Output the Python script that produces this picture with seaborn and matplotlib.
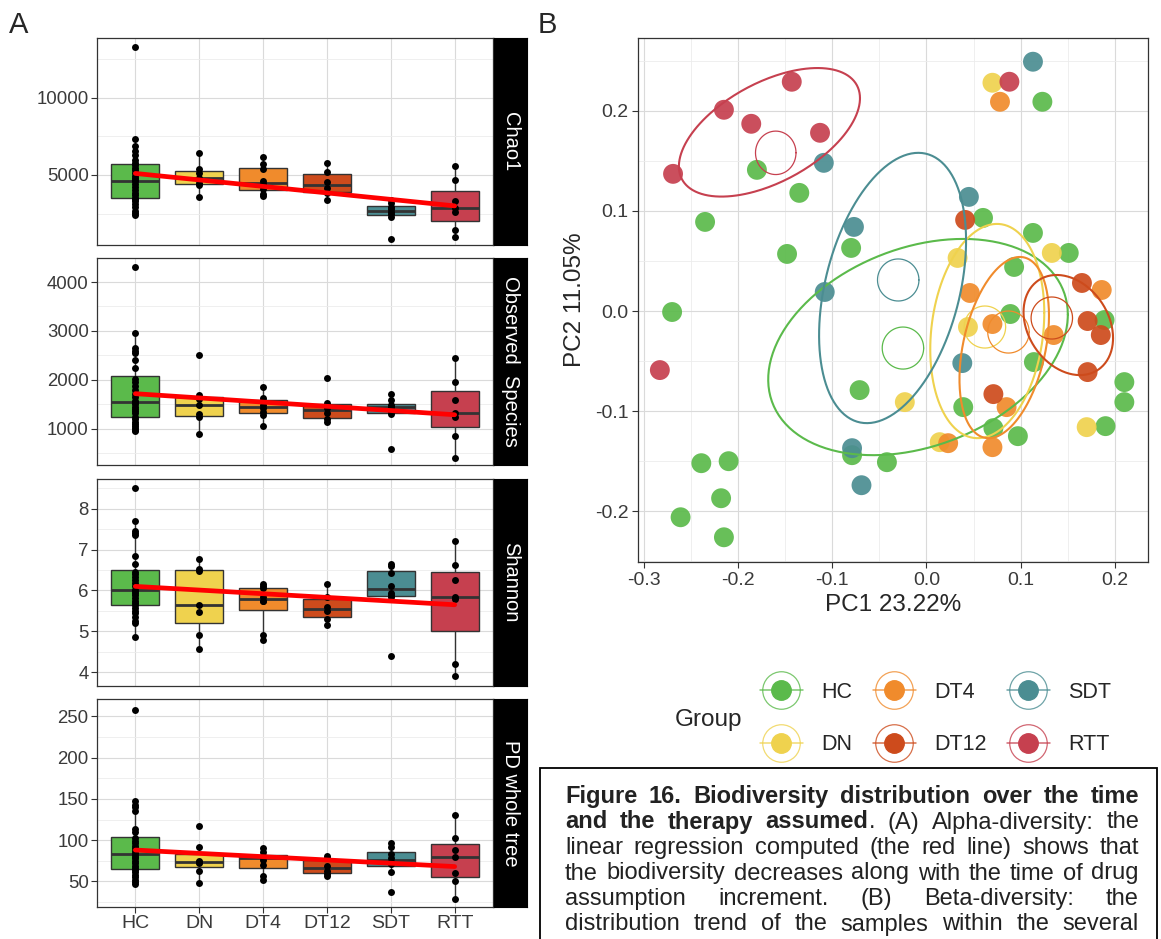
import numpy as np
import pandas as pd
import seaborn as sns
import matplotlib.pyplot as plt
from matplotlib.lines import Line2D
from matplotlib.patches import Rectangle
from matplotlib.legend_handler import HandlerTuple

groups = ["HC", "DN", "DT4", "DT12", "SDT", "RTT"]
colors = ["#5BBA4B", "#EFD24E", "#F08B2C", "#CD4B1C", "#4B8D92", "#C6404F"]

# alpha diversity, one value per sample
chao1 = {
    "HC": [2400, 2550, 2700, 2900, 3100, 3300, 3460, 3520, 3700, 3850, 4000, 4200, 4400, 4580,
           4680, 4800, 4950, 5100, 5300, 5450, 5650, 5780, 6000, 6300, 6550, 6900, 7300, 13260],
    "DN": [3560, 4350, 4490, 4790, 5150, 5410, 6440],
    "DT4": [3650, 3800, 4110, 4400, 4600, 5400, 5700, 6150],
    "DT12": [3350, 3850, 4130, 4570, 5200, 5800],
    "SDT": [870, 2250, 2460, 2620, 2780, 2950, 3200, 3400],
    "RTT": [1000, 1450, 2590, 2850, 3300, 4670, 5600],
}
observed = {
    "HC": [950, 980, 1010, 1050, 1100, 1150, 1210, 1250, 1320, 1360, 1400, 1450, 1500, 1540,
           1580, 1650, 1720, 1800, 1880, 1950, 2020, 2250, 2400, 2550, 2600, 2650, 2950, 4300],
    "DN": [900, 1250, 1295, 1490, 1620, 1700, 2500],
    "DT4": [1050, 1290, 1350, 1420, 1480, 1580, 1630, 1850],
    "DT12": [1150, 1200, 1330, 1430, 1538, 2050],
    "SDT": [600, 1300, 1345, 1430, 1470, 1490, 1590, 1720],
    "RTT": [400, 850, 1245, 1320, 1600, 1954, 2450],
}
shannon = {
    "HC": [4.85, 5.2, 5.25, 5.35, 5.45, 5.5, 5.58, 5.65, 5.7, 5.75, 5.82, 5.88, 5.93, 5.98,
           6.02, 6.1, 6.18, 6.25, 6.32, 6.4, 6.45, 6.65, 6.85, 7.35, 7.4, 7.45, 7.7, 8.5],
    "DN": [4.57, 4.92, 5.48, 5.65, 6.48, 6.52, 6.78],
    "DT4": [4.78, 4.9, 5.73, 5.75, 5.85, 6.05, 6.12, 6.15],
    "DT12": [5.15, 5.3, 5.5, 5.6, 5.85, 6.15],
    "SDT": [4.4, 5.85, 5.88, 5.95, 6.1, 6.42, 6.6, 6.65],
    "RTT": [3.9, 4.2, 5.8, 5.84, 6.25, 6.63, 7.2],
}
pd_tree = {
    "HC": [47, 49, 52, 55, 58, 61, 64, 66, 69, 72, 75, 78, 80, 82.5,
           84.7, 87, 90, 93, 96, 99, 102, 110, 113, 135, 140, 143, 147, 258],
    "DN": [48, 63, 72, 74, 75, 92, 117],
    "DT4": [52, 57, 70, 76, 80, 81, 86, 90],
    "DT12": [57, 59, 63, 69, 78, 81],
    "SDT": [37, 62, 71, 74, 78, 83, 92, 97],
    "RTT": [29, 50, 60, 80, 88, 103, 130],
}

# red regression line, value at HC and at RTT
trend_chao1 = [5100, 3000]
trend_observed = [1720, 1290]
trend_shannon = [6.1, 5.65]
trend_pd = [88, 68]

# PCoA coordinates
pc1 = {
    "HC": [-0.180, -0.135, -0.235, -0.148, -0.080, 0.123, 0.060, 0.113, 0.151, 0.093, 0.089, 0.189,
           0.114, 0.039, 0.071, 0.097, 0.190, -0.042, 0.210, 0.210, -0.270, -0.071, -0.079, -0.239,
           -0.210, -0.218, -0.261, -0.215],
    "DN": [0.070, 0.033, 0.133, 0.044, -0.023, 0.014, 0.170],
    "DT4": [0.078, 0.046, 0.186, 0.070, 0.135, 0.085, 0.023, 0.070],
    "DT12": [0.041, 0.165, 0.171, 0.185, 0.171, 0.071],
    "SDT": [0.113, -0.109, 0.045, -0.077, -0.108, 0.038, -0.079, -0.069],
    "RTT": [-0.143, -0.215, -0.186, -0.113, -0.269, 0.088, -0.283],
}
pc2 = {
    "HC": [0.141, 0.118, 0.089, 0.057, 0.063, 0.209, 0.093, 0.078, 0.058, 0.044, -0.003, -0.009,
           -0.051, -0.096, -0.117, -0.125, -0.115, -0.151, -0.071, -0.091, -0.001, -0.079, -0.144,
           -0.152, -0.150, -0.187, -0.206, -0.226],
    "DN": [0.228, 0.053, 0.058, -0.016, -0.091, -0.131, -0.116],
    "DT4": [0.209, 0.018, 0.021, -0.013, -0.024, -0.096, -0.132, -0.136],
    "DT12": [0.091, 0.028, -0.010, -0.024, -0.061, -0.083],
    "SDT": [0.249, 0.148, 0.114, 0.084, 0.019, -0.052, -0.137, -0.174],
    "RTT": [0.229, 0.201, 0.187, 0.178, 0.137, 0.229, -0.059],
}

# group ellipses: centre x, centre y, half width, half height, tilt (cos of phase)
ell_outer = {
    "HC": (-0.009, -0.036, 0.159, 0.108, 0.30),
    "DN": (0.0645, -0.020, 0.0605, 0.107, 0.17),
    "DT4": (0.0825, -0.0365, 0.0475, 0.0905, 0.35),
    "DT12": (0.1505, -0.014, 0.0475, 0.050, -0.26),
    "SDT": (-0.036, 0.023, 0.078, 0.135, 0.35),
    "RTT": (-0.1667, 0.1785, 0.0961, 0.0642, 0.53),
}
ell_inner = {
    "HC": (-0.025, -0.037, 0.022, 0.021, 0.0),
    "DN": (0.062, -0.016, 0.022, 0.021, 0.0),
    "DT4": (0.087, -0.021, 0.022, 0.021, 0.0),
    "DT12": (0.133, -0.007, 0.022, 0.021, 0.0),
    "SDT": (-0.030, 0.031, 0.022, 0.021, 0.0),
    "RTT": (-0.160, 0.158, 0.0215, 0.0217, 0.0),
}

caption = [
    [[("Figure", True)], [("16.", True)], [("Biodiversity", True)], [("distribution", True)],
     [("over", True)], [("the", True)], [("time", True)]],
    [[("and", True)], [("the", True)], [("therapy", True)], [("assumed", True), (".", False)],
     [("(A)", False)], [("Alpha-diversity:", False)], [("the", False)]],
    [[(w, False)] for w in "linear regression computed (the red line) shows that".split()],
    [[(w, False)] for w in "the biodiversity decreases along with the time of drug".split()],
    [[(w, False)] for w in "assumption increment. (B) Beta-diversity: the".split()],
    [[(w, False)] for w in "distribution trend of the samples within the several".split()],
]

sns.set_style("whitegrid")
plt.rcParams['font.family'] = ['Liberation Sans', 'DejaVu Sans']

W, H = 1161, 939
fig = plt.figure(figsize=(W / 100, H / 100), dpi=100)


def px_axes(x0, y0, x1, y1):
    return fig.add_axes([x0 / W, 1 - y1 / H, (x1 - x0) / W, (y1 - y0) / H])


def style_frame(ax):
    for s in ax.spines.values():
        s.set_color("#333333")
        s.set_linewidth(0.9)
    ax.grid(which="major", color="#DADADA", lw=0.8)
    ax.grid(which="minor", color="#ECECEC", lw=0.6)
    ax.set_axisbelow(True)
    ax.tick_params(which="minor", length=0)


# ---- panel A ----
facets = [
    ("Chao1", chao1, trend_chao1, (470, 13860), [5000, 10000], [2500, 7500, 12500], (38, 245)),
    ("Observed  Species", observed, trend_observed, (264, 4490), [1000, 2000, 3000, 4000],
     [500, 1500, 2500, 3500], (258, 465)),
    ("Shannon", shannon, trend_shannon, (3.66, 8.73), [4, 5, 6, 7, 8],
     [4.5, 5.5, 6.5, 7.5, 8.5], (479, 686)),
    ("PD whole tree", pd_tree, trend_pd, (19, 271), [50, 100, 150, 200, 250],
     [25, 75, 125, 175, 225], (699, 907)),
]

for i, (name, vals, trend, ylim, major, minor, (y0, y1)) in enumerate(facets):
    ax = px_axes(97, y0, 493, y1)
    df = pd.DataFrame([(g, v) for g in groups for v in vals[g]], columns=["group", "value"])
    sns.boxplot(data=df, x="group", y="value", hue="group", order=groups, hue_order=groups,
                palette=colors, saturation=1, width=0.75, showfliers=False, showcaps=False,
                linecolor="#333333", linewidth=1, legend=False, ax=ax,
                medianprops={"linewidth": 2})
    sns.stripplot(data=df, x="group", y="value", order=groups, jitter=False, color="black",
                  size=5, ax=ax, zorder=4)
    sns.lineplot(x=[0, 5], y=trend, color="red", lw=3.4, ax=ax, zorder=6)
    ax.set_xlim(-0.6, 5.6)
    ax.set_ylim(*ylim)
    ax.set_yticks(major)
    ax.set_yticks(minor, minor=True)
    ax.set_xlabel("")
    ax.set_ylabel("")
    style_frame(ax)
    ax.tick_params(which="major", length=4, color="#333333", labelsize=13.4,
                   labelcolor="#3A3A3A", left=True, bottom=(i == 3), pad=2)
    if i < 3:
        ax.set_xticklabels([])
    else:
        ax.tick_params(axis="x", labelsize=14)

    sax = px_axes(494, y0, 527, y1)
    sax.set_facecolor("black")
    sax.set_xticks([])
    sax.set_yticks([])
    sax.grid(False)
    for s in sax.spines.values():
        s.set_color("black")
    sax.text(0.5, 0.5, name, rotation=-90, color="white", ha="center", va="center",
             fontsize=14.5, transform=sax.transAxes)

# ---- panel B ----
axb = px_axes(638, 38, 1148, 562)
pcoa = pd.DataFrame([(g, x, y) for g in groups for x, y in zip(pc1[g], pc2[g])],
                    columns=["Group", "PC1", "PC2"])
sns.scatterplot(data=pcoa, x="PC1", y="PC2", hue="Group", hue_order=groups, palette=colors,
                s=205, alpha=0.92, linewidth=0, legend=False, ax=axb, zorder=3)
t = np.linspace(0, 2 * np.pi, 240)
for g, c in zip(groups, colors):
    for (cx, cy, a, b, r), lw in ((ell_outer[g], 1.5), (ell_inner[g], 0.9)):
        phi = np.arccos(r)
        axb.plot(cx + a * np.cos(t), cy + b * np.cos(t - phi), color=c, lw=lw, zorder=4)
axb.set_xlim(-0.3062, 0.2351)
axb.set_ylim(-0.2507, 0.2727)
axb.set_xticks([-0.3, -0.2, -0.1, 0.0, 0.1, 0.2],
               labels=["-0.3", "-0.2", "-0.1", "0.0", "0.1", "0.2"])
axb.set_yticks([-0.2, -0.1, 0.0, 0.1, 0.2], labels=["-0.2", "-0.1", "0.0", "0.1", "0.2"])
axb.set_xticks([-0.25, -0.15, -0.05, 0.05, 0.15], minor=True)
axb.set_yticks([-0.25, -0.15, -0.05, 0.05, 0.15, 0.25], minor=True)
style_frame(axb)
axb.tick_params(which="major", length=4, color="#333333", labelsize=14, labelcolor="#3A3A3A",
                left=True, bottom=True, pad=3)
axb.set_xlabel("PC1 23.22%", fontsize=17.5, labelpad=4)
axb.set_ylabel("PC2 11.05%", fontsize=17.5, labelpad=6)

handles = []
for c in colors:
    ring = Line2D([], [], color=c, lw=1.1, marker="o", markersize=27, markerfacecolor="none",
                  markeredgecolor=c, markeredgewidth=0.9, alpha=0.8)
    dot = Line2D([], [], color=c, marker="o", markersize=14, linestyle="none")
    handles.append((ring, dot))
fig.legend(handles, groups, handler_map={tuple: HandlerTuple(ndivide=1)}, ncol=3,
           loc="center left", bbox_to_anchor=(749 / W, 1 - 718.5 / H), frameon=False,
           fontsize=15.5, handlelength=2.0, handletextpad=0.85, columnspacing=0.95,
           labelspacing=1.45, borderpad=0)
fig.text(675 / W, 1 - 720 / H, "Group", fontsize=17.5, va="center", ha="left")

fig.text(9 / W, 1 - 33 / H, "A", fontsize=21, va="baseline")
fig.text(538 / W, 1 - 33 / H, "B", fontsize=21, va="baseline")

# ---- caption box ----
fig.add_artist(Rectangle((540 / W, -0.05), 617 / W, 0.05 + 1 - 768 / H,
                         transform=fig.transFigure, fill=False, ec="black", lw=1.3))
renderer = fig.canvas.get_renderer()
fs = 17
left, right = 565, 1139


def piece_width(s, bold):
    tx = fig.text(0, 0, s, fontsize=fs, fontweight="bold" if bold else "normal")
    w = tx.get_window_extent(renderer).width
    tx.remove()
    return w


for k, words in enumerate(caption):
    base = 803 + k * 25.5
    widths = [sum(piece_width(s, b) for s, b in word) for word in words]
    gap = (right - left - sum(widths)) / (len(words) - 1)
    x = left
    for word, w in zip(words, widths):
        xx = x
        for s, b in word:
            fig.text(xx / W, 1 - base / H, s, fontsize=fs, color="#222222",
                     fontweight="bold" if b else "normal", va="baseline")
            xx += piece_width(s, b)
        x += w + gap

fig.savefig("out.png", dpi=100)
